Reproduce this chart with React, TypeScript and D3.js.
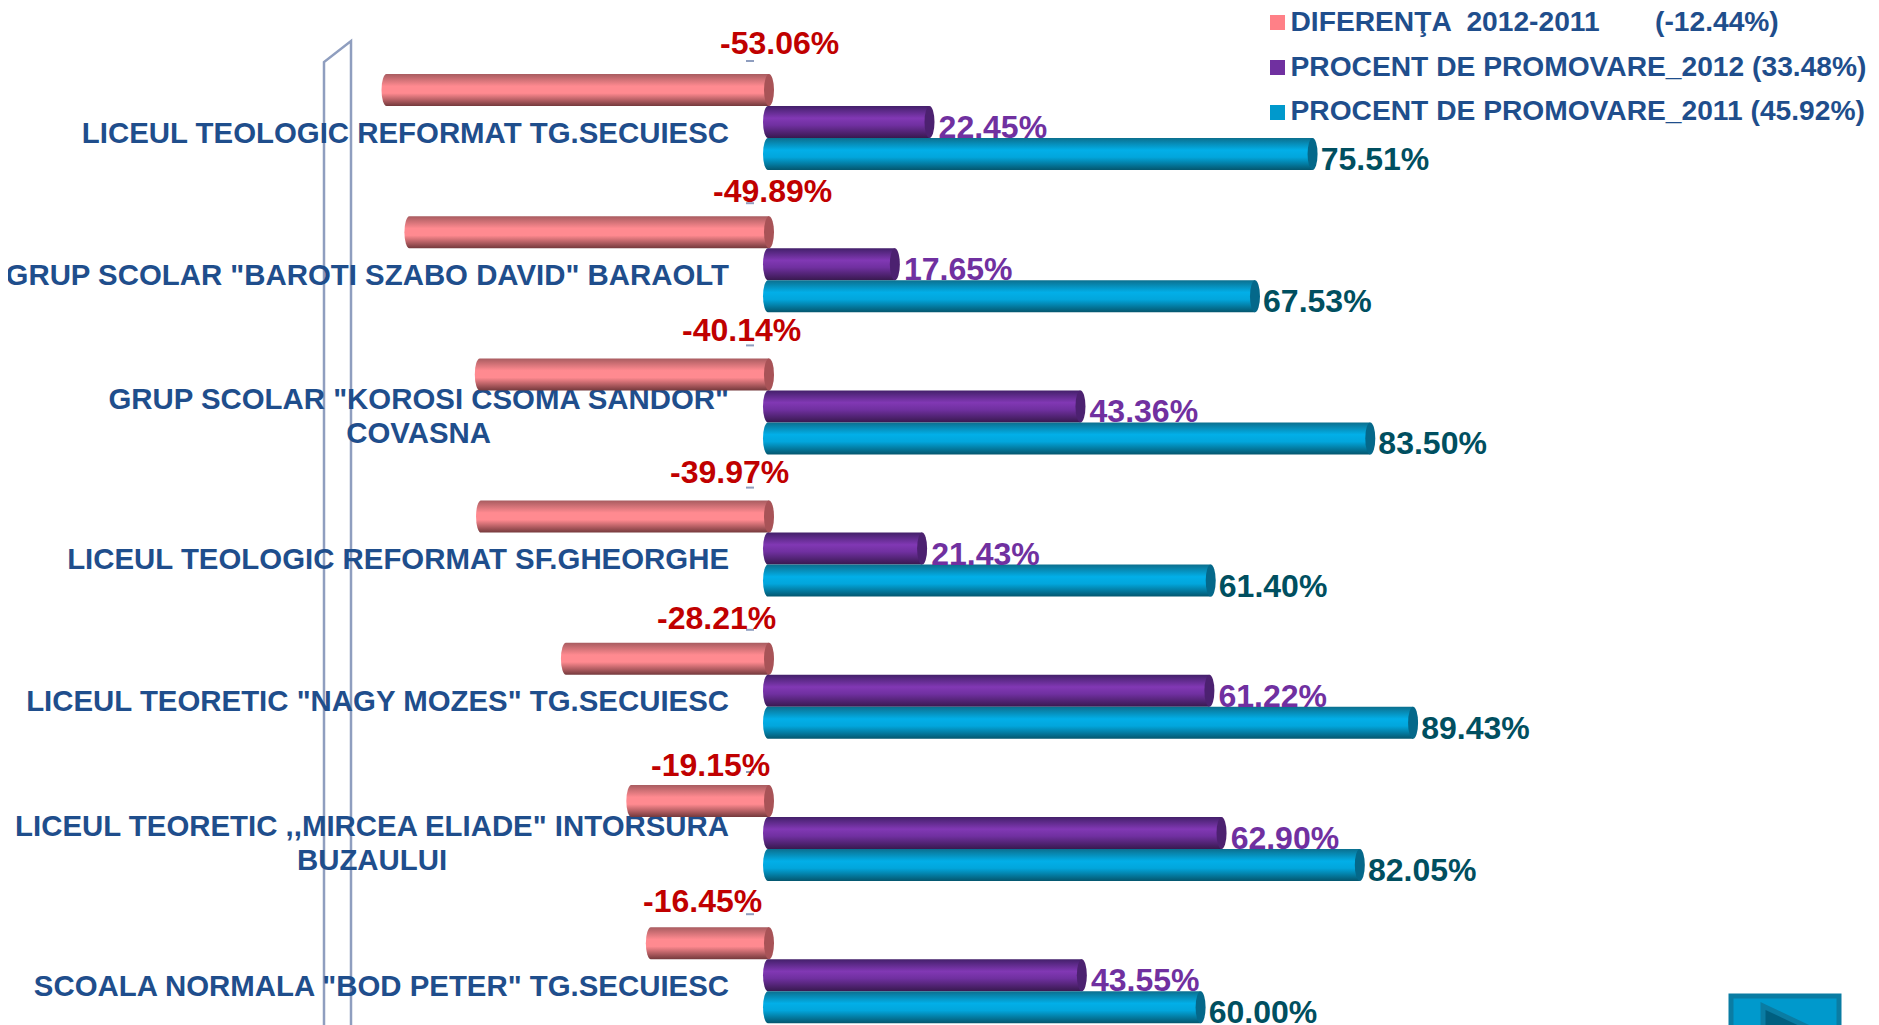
// App.tsx
import React, { useRef, useEffect } from 'react';
import * as d3 from 'd3';

const categories = [
  ['LICEUL TEOLOGIC REFORMAT TG.SECUIESC'],
  ['GRUP SCOLAR "BAROTI SZABO DAVID" BARAOLT'],
  ['GRUP SCOLAR "KOROSI CSOMA SANDOR"', 'COVASNA'],
  ['LICEUL TEOLOGIC REFORMAT SF.GHEORGHE'],
  ['LICEUL TEORETIC "NAGY MOZES" TG.SECUIESC'],
  ['LICEUL TEORETIC ,,MIRCEA ELIADE" INTORSURA', 'BUZAULUI'],
  ['SCOALA NORMALA "BOD PETER" TG.SECUIESC'],
];
const diff = [-53.06, -49.89, -40.14, -39.97, -28.21, -19.15, -16.45];
const promo2012 = [22.45, 17.65, 43.36, 21.43, 61.22, 62.9, 43.55];
const promo2011 = [75.51, 67.53, 83.5, 61.4, 89.43, 82.05, 60.0];

const legendNames = ['DIFERENŢA  2012-2011', 'PROCENT DE PROMOVARE_2012', 'PROCENT DE PROMOVARE_2011'];
const legendValues = ['(-12.44%)', '(33.48%)', '(45.92%)'];

// the difference labels were placed by hand in the original, so they do not follow the bars
const diffLabelLeft = [720, 713, 682, 670, 657, 651, 643];
const diffLabelMiddle = [43, 191, 330, 472, 618, 765, 901];

const seriesKeys = ['diff', 'p2012', 'p2011'];
const seriesColors = ['#ff8087', '#7030a0', '#0099cc'];
const gradientStops = [
  ['#a85c60', '#ff8a90', '#ff8a90', '#74393c'],
  ['#43206a', '#8138b4', '#7030a0', '#38194f'],
  ['#0b6f8e', '#02afe8', '#02a6dc', '#04566e'],
];
const capColors = ['#a85357', '#4c2170', '#04688a'];
const labelColors = ['#c00000', '#7030a0', '#004f60'];

const width = 1879;
const height = 1025;
const navy = '#1f4e8c';
const font = '"Liberation Sans", Arial, sans-serif';

const Chart = () => {
  const chartRef = useRef<SVGSVGElement>(null);

  useEffect(() => {
    document.body.style.margin = '0';
    const svg = d3.select(chartRef.current);
    svg.selectAll('*').remove();

    const zero = 764;
    const x = d3.scaleLinear().domain([0, 100]).range([0, 722]);
    const y = d3
      .scaleBand()
      .domain(categories.map((c) => c[0]))
      .range([66, 66 + 142.2 * categories.length]);
    const inner = d3.scaleBand().domain(seriesKeys).range([8, 104]);

    // Gradients for the cylinders
    const defs = svg.append('defs');
    gradientStops.forEach((stops, i) => {
      const gradient = defs
        .append('linearGradient')
        .attr('id', `cyl${i}`)
        .attr('x1', 0)
        .attr('x2', 0)
        .attr('y1', 0)
        .attr('y2', 1);
      [0, 0.38, 0.6, 1].forEach((offset, j) => {
        gradient.append('stop').attr('offset', offset).attr('stop-color', stops[j]);
      });
    });
    defs
      .append('clipPath')
      .attr('id', 'labelClip')
      .append('rect')
      .attr('x', 8)
      .attr('y', 0)
      .attr('width', width)
      .attr('height', height);

    // Side wall of the 3D plot
    const wall = svg
      .append('g')
      .attr('fill', 'none')
      .attr('stroke', '#8f9ebf')
      .attr('stroke-width', 2.5);
    wall.append('path').attr('d', `M324,${height}V62L351,41V${height}`);

    // Zero-line ticks left visible above the bars
    svg
      .append('g')
      .selectAll('line')
      .data(categories)
      .join('line')
      .attr('x1', 746)
      .attr('x2', 754)
      .attr('y1', (c) => y(c[0])! - 5)
      .attr('y2', (c) => y(c[0])! - 5)
      .attr('stroke', '#8f9ebf')
      .attr('stroke-width', 2);

    // Category labels: first line ends at the axis, second line is centred under it
    const labels = svg
      .append('g')
      .attr('clip-path', 'url(#labelClip)')
      .attr('font-family', font)
      .attr('font-weight', 700)
      .attr('font-size', 29.4)
      .attr('fill', navy);
    categories.forEach((lines) => {
      const mid = y(lines[0])! + 67;
      const first = labels
        .append('text')
        .attr('x', 729)
        .attr('y', lines.length > 1 ? mid - 8 : mid + 9.5)
        .attr('text-anchor', 'end')
        .text(lines[0]);
      if (lines.length > 1) {
        const w = (first.node() as SVGTextElement).getComputedTextLength();
        labels
          .append('text')
          .attr('x', 729 - w / 2)
          .attr('y', mid + 26)
          .attr('text-anchor', 'middle')
          .text(lines[1]);
      }
    });

    // One cylinder: body, rounded far end, and the darker visible cap
    const capRx = 5;
    const drawBar = (
      group: any,
      left: number,
      right: number,
      top: number,
      index: number
    ) => {
      const h = inner.bandwidth();
      group
        .append('path')
        .attr(
          'd',
          `M${left + capRx},${top}H${right}V${top + h}H${left + capRx}A${capRx},${h / 2} 0 0 1 ${left + capRx},${top}Z`
        )
        .attr('fill', `url(#cyl${index})`);
      group
        .append('ellipse')
        .attr('cx', right)
        .attr('cy', top + h / 2)
        .attr('rx', capRx)
        .attr('ry', h / 2)
        .attr('fill', capColors[index]);
    };

    const valueFormat = (v: number) => `${v.toFixed(2)}%`;
    const valueLabels = svg
      .append('g')
      .attr('font-family', font)
      .attr('font-weight', 700)
      .attr('font-size', 32);

    const bars = svg.append('g');
    categories.forEach((c, i) => {
      const top = y(c[0])!;
      drawBar(bars, zero + 0.6 - x(-diff[i]), zero + 5, top + inner('diff')!, 0);
      drawBar(bars, zero - 1, zero + x(promo2012[i]) + 3.4, top + inner('p2012')!, 1);
      drawBar(bars, zero - 1, zero + x(promo2011[i]) + 3.4, top + inner('p2011')!, 2);

      valueLabels
        .append('text')
        .attr('x', diffLabelLeft[i])
        .attr('y', diffLabelMiddle[i] + 11)
        .attr('fill', labelColors[0])
        .text(valueFormat(diff[i]));
      bars
        .append('text')
        .attr('x', zero + x(promo2012[i]) + 12.5)
        .attr('y', top + inner('p2012')! + 32)
        .attr('font-family', font)
        .attr('font-weight', 700)
        .attr('font-size', 32)
        .attr('fill', labelColors[1])
        .text(valueFormat(promo2012[i]));
      bars
        .append('text')
        .attr('x', zero + x(promo2011[i]) + 11.5)
        .attr('y', top + inner('p2011')! + 32)
        .attr('font-family', font)
        .attr('font-weight', 700)
        .attr('font-size', 32)
        .attr('fill', labelColors[2])
        .text(valueFormat(promo2011[i]));
    });

    // Legend
    const legend = svg
      .append('g')
      .attr('font-family', font)
      .attr('font-weight', 700)
      .attr('font-size', 28.2)
      .attr('fill', navy);
    legendNames.forEach((name, i) => {
      const rowY = 15 + i * 45;
      legend
        .append('rect')
        .attr('x', 1270)
        .attr('y', rowY)
        .attr('width', 15)
        .attr('height', 15)
        .attr('fill', seriesColors[i]);
      const row = legend
        .append('text')
        .attr('x', 1290.5)
        .attr('y', rowY + 16 - i * 0.5)
        .attr('xml:space', 'preserve')
        .style('white-space', 'pre');
      row.append('tspan').text(name);
      if (i === 0) row.append('tspan').attr('x', 1655).text(legendValues[i]);
      else row.append('tspan').text(` ${legendValues[i]}`);
    });

    // Forward button cut off by the slide edge
    svg
      .append('rect')
      .attr('x', 1731)
      .attr('y', 996)
      .attr('width', 108)
      .attr('height', 60)
      .attr('fill', '#0099cc')
      .attr('stroke', '#0a7ca3')
      .attr('stroke-width', 5);
    svg
      .append('path')
      .attr('d', 'M1763,1006L1835,1040H1763Z')
      .attr('fill', '#005f80')
      .attr('stroke', '#0a7ca3')
      .attr('stroke-width', 5);
  }, []);

  return (
    <svg
      ref={chartRef}
      width={width}
      height={height}
      style={{ position: 'absolute', left: 0, top: 0, display: 'block', background: '#fff' }}
    />
  );
};

export default function App() {
  return <Chart />;
}
